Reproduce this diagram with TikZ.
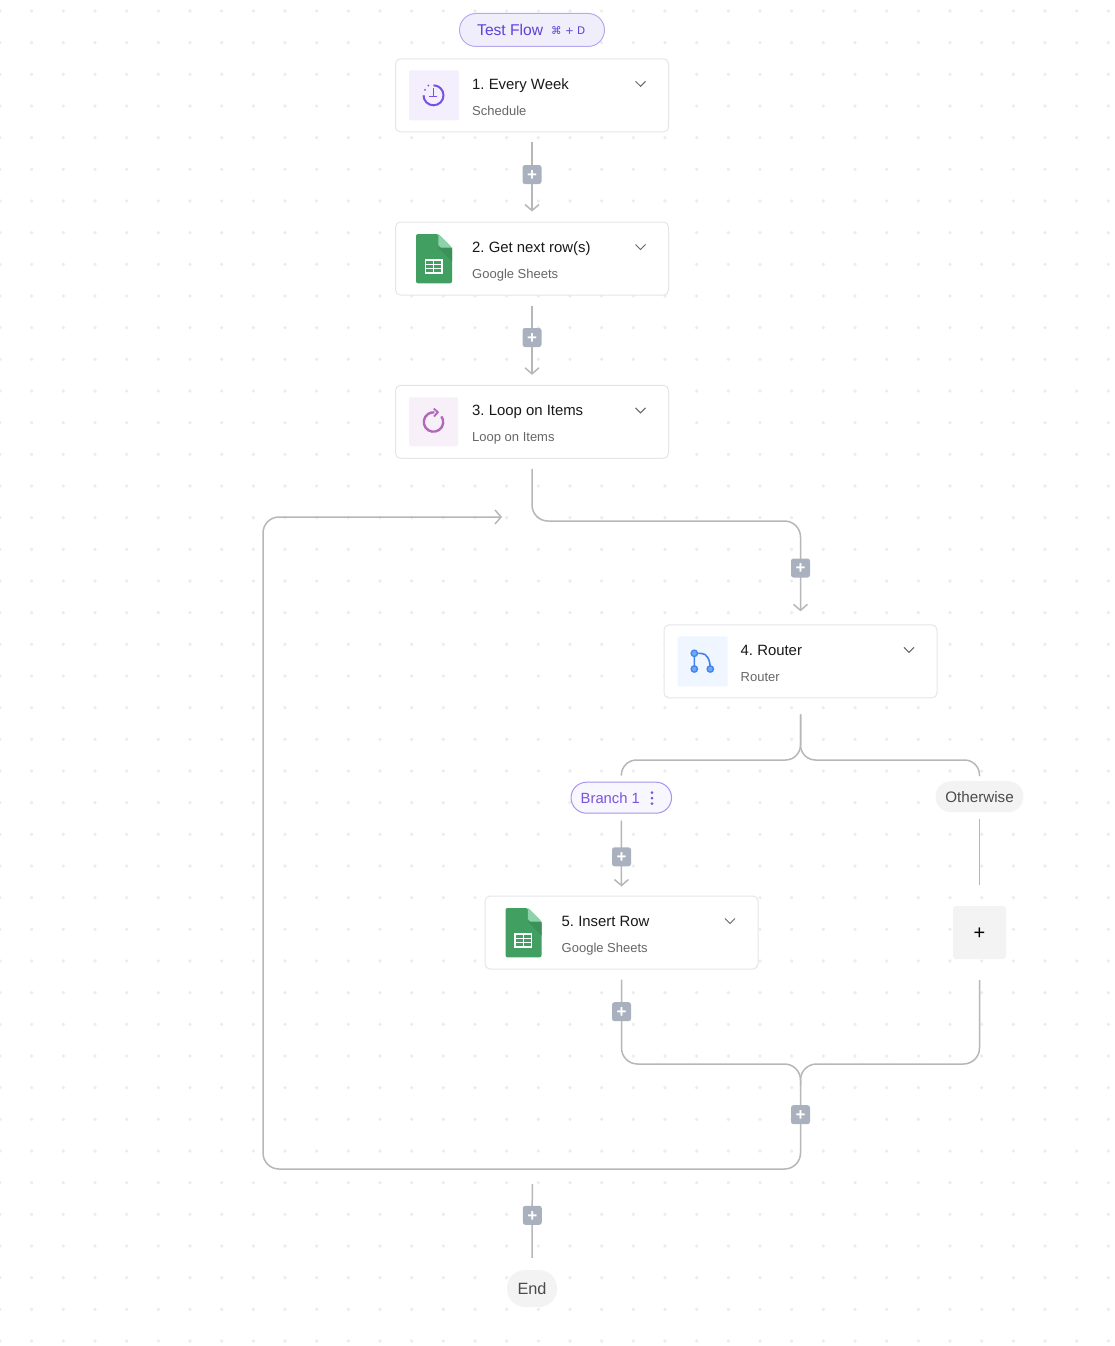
\documentclass[tikz,border=0pt]{standalone}
\usepackage{fontspec}
\setmainfont{Liberation Sans}
\newfontfamily\symfont{DejaVu Sans}
\usetikzlibrary{arrows.meta}
\definecolor{lineg}{HTML}{B7B7BA}
\definecolor{plusg}{HTML}{A9B0BE}
\definecolor{dotg}{HTML}{ECECEC}
\definecolor{cardb}{HTML}{E6E6E8}
\definecolor{purp}{HTML}{5E41D8}
\definecolor{clockp}{HTML}{7A4FE6}
\definecolor{loopp}{HTML}{B268BA}
\definecolor{routb}{HTML}{3F83F3}
\definecolor{routf}{HTML}{6FA8F6}
\definecolor{sheetg}{HTML}{429F62}
\definecolor{sheetl}{HTML}{8ED2AA}
\definecolor{sheetd}{HTML}{3B9159}
\definecolor{pilla}{HTML}{F1EEFC}
\definecolor{pillab}{HTML}{B8A8F0}
\definecolor{pillc}{HTML}{F8F6FE}
\definecolor{pillcb}{HTML}{A993EE}
\definecolor{branchT}{HTML}{7A54DC}
\definecolor{iconp}{HTML}{F3EFFD}
\definecolor{iconl}{HTML}{F8F0F9}
\definecolor{iconr}{HTML}{EFF6FF}
\definecolor{greyf}{HTML}{F3F3F3}
\definecolor{greyt}{HTML}{4B4B4B}
\tikzset{
  x=1pt,y=-1pt,
  card/.style={draw=cardb,line width=1pt,fill=white,rounded corners=5pt,minimum width=273pt,minimum height=73pt,inner sep=0pt},
  steptitle/.style={anchor=base west,inner sep=0pt,font=\fontsize{14.9}{16}\selectfont\frenchspacing,text=black!90},
  stepsub/.style={anchor=base west,inner sep=0pt,font=\fontsize{13}{14}\selectfont,text=black!60},
  chev/.style={draw=black!60,line width=1pt},
  conn/.style={draw=lineg,line width=1.5pt},
  tipped/.style={-{Straight Barb[length=6pt,width=14pt,line width=1.5pt]}},
  plusbox/.style={fill=plusg,rounded corners=2.5pt,minimum width=19pt,minimum height=19pt,inner sep=0pt,text=white,font=\fontsize{17}{17}\selectfont\bfseries},
  iconbox/.style={rounded corners=2pt,minimum width=50pt,minimum height=50pt,inner sep=0pt},
}
\newcommand{\stepcard}[5]{%
  \node[card] (#1) at (#2,#3) {};
  \node[steptitle] (#1t) at (#2-60,#3-6) {#4};
  \node[stepsub] (#1s) at (#2-60,#3+20) {#5};
  \draw[chev] (#2+103.5,#3-14) -- (#2+108.5,#3-9) -- (#2+113.5,#3-14);
}
\newcommand{\sheeticon}[2]{%
  \begin{scope}[shift={(#1,#2)}]
    \fill[sheetg,rounded corners=2pt] (0,0) -- (22.3,0) -- (36,13.7) -- (36,49.3) -- (0,49.3) -- cycle;
    \fill[sheetd] (22.3,13.7) -- (36,13.7) -- (36,27.4) -- cycle;
    \fill[sheetl] (22.3,0) -- (36,13.7) -- (25,13.7) -- (22.3,11) -- cycle;
    \draw[white,line width=1.5pt] (9.7,25.9) rectangle (26,39);
    \draw[white,line width=1.3pt] (9.7,30.3) -- (26,30.3) (9.7,34.6) -- (26,34.6) (17.8,25.9) -- (17.8,39);
  \end{scope}
}
\newcommand{\plusmark}{\raisebox{-1pt}[\height][\depth]{+}}
\begin{document}
\begin{tikzpicture}
\useasboundingbox (0,0) rectangle (1114,1346);
\fill[white] (0,0) rectangle (1114,1346);
% dots
\foreach \i in {0,...,35} \foreach \j in {0,...,42}
  \fill[dotg] ({\i*31.667},{11+\j*31.667}) circle[radius=1.8];

% cards
\stepcard{c1}{532}{95.3}{1. Every Week}{Schedule}
\stepcard{c2}{532}{258.5}{2. Get next row(s)}{Google Sheets}
\stepcard{c3}{532}{421.8}{3. Loop on Items}{Loop on Items}
\stepcard{c4}{800.5}{661.3}{4. Router}{Router}
\stepcard{c5}{621.5}{932.5}{5. Insert Row}{Google Sheets}

% icons
\node[iconbox,fill=iconp] (i1) at (434,95.3) {};
\draw[clockp,line width=2pt] (433.5,95.3) ++(0,-10) arc[start angle=-90,end angle=180,radius=10];
\fill[clockp] (428.3,85.5) circle[radius=1] (425,89.8) circle[radius=1];
\draw[clockp,line width=1.6pt] (433.5,88) -- (433.5,96.3) (429,96.3) -- (436.5,96.3);
\sheeticon{416}{234}
\node[iconbox,fill=iconl,minimum width=49pt,minimum height=49pt] (i3) at (433.5,421.8) {};
\draw[loopp,line width=2.4pt] (433.5,422) ++(-35:9.7) arc[start angle=-35,end angle=275,radius=9.7];
\draw[loopp,line width=1.9pt] (433.8,408.5) -- (437.8,412.3) -- (434,416.5);
\node[iconbox,fill=iconr] (i4) at (702.5,661.3) {};
\draw[routb,line width=1.6pt] (694.3,653.3) -- (694.3,669) (694.3,653.3) -- (701,653.3) .. controls (707,653.3) and (710.3,660) .. (710.3,669);
\filldraw[routb,fill=routf,line width=1.3pt] (694.3,653.3) circle[radius=3.2] (694.3,669) circle[radius=3.2] (710.3,669) circle[radius=3.2];
\sheeticon{505.5}{908}

% pills and end nodes
\node[draw=pillab,fill=pilla,line width=1pt,rounded corners=16.5pt,minimum width=145pt,minimum height=33pt,inner sep=0pt] (test) at (532,30) {};
\node[anchor=base west,inner sep=0pt,text=purp,font=\fontsize{15.6}{16}\selectfont] (testt) at (477,35.3) {Test Flow};
\node[anchor=base west,inner sep=0pt,text=purp,font=\symfont\fontsize{10.5}{12}\selectfont] (testk) at (551,34.5) {⌘ + D};
\node[draw=pillcb,fill=pillc,line width=1pt,rounded corners=15.5pt,minimum width=100.5pt,minimum height=31pt,inner sep=0pt] (br) at (621.3,797.7) {};
\node[anchor=base west,inner sep=0pt,text=branchT,font=\fontsize{14.8}{16}\selectfont] (brt) at (580.5,803) {Branch 1};
\fill[branchT] (652,792.5) circle[radius=1.5] (652,798) circle[radius=1.5] (652,803.5) circle[radius=1.5];
\node[fill=greyf,rounded corners=15.5pt,minimum width=88pt,minimum height=31pt,inner sep=0pt,text=greyt,font=\fontsize{15.2}{16}\selectfont] (other) at (979.5,796.7) {Otherwise};
\node[fill=greyf,rounded corners=3pt,minimum width=53pt,minimum height=53pt,inner sep=0pt,font=\fontsize{20}{20}\selectfont] (add) at (979.5,932.5) {\plusmark};
\node[fill=greyf,rounded corners=18pt,minimum width=50pt,minimum height=37pt,inner sep=0pt,text=greyt,font=\fontsize{16.3}{18}\selectfont] (endn) at (532,1288.5) {End};

% junction coordinates
\coordinate (a1) at (532,521);
\coordinate (a2) at (800.5,521);
\coordinate (rj) at (800.5,760);
\coordinate (rl2) at (621.5,760);
\coordinate (rr2) at (979.5,760);
\coordinate (ml) at (621.5,1064);
\coordinate (mr) at (979.5,1064);
\coordinate (mm) at (800.5,1064);
\coordinate (mm2) at (800.5,1085);
\coordinate (b1) at (800.5,1169);
\coordinate (b2) at (263,1169);
\coordinate (b3) at (263,517);
\coordinate (b4) at (502,517);
\coordinate (e0) at (532.3,1184);

% connectors
\draw[conn,tipped,shorten <=10pt,shorten >=10pt] (c1) -- (c2);
\draw[conn,tipped,shorten <=10pt,shorten >=10pt] (c2) -- (c3);
\draw[conn,tipped,rounded corners=16pt,shorten <=10pt,shorten >=13pt] (c3.south) -- (a1) -- (a2) -- (c4.north);
\draw[conn,rounded corners=15pt,shorten <=16pt,shorten >=6pt] (c4.south) -- (rj) -- (rl2) -- (br.north);
\draw[conn,rounded corners=15pt,shorten <=16pt,shorten >=5pt] (c4.south) -- (rj) -- (rr2) -- (other.north);
\draw[conn,tipped,shorten <=7pt,shorten >=9pt] (br.south) -- (c5.north);
\draw[conn,shorten <=7pt,shorten >=21pt] (other.south) -- (add.north);
\draw[conn,rounded corners=16pt,shorten <=10pt] (c5.south) -- (ml) -- (mm) -- (mm2);
\draw[conn,rounded corners=16pt,shorten <=21pt] (add.south) -- (mr) -- (mm) -- (mm2);
\draw[conn,tipped,rounded corners=16pt] (mm2) -- (b1) -- (b2) -- (b3) -- (b4);
\draw[conn,shorten >=12pt] (e0) -- (endn.north);

% add buttons
\node[plusbox] (p1) at (532,174.5) {\plusmark};
\node[plusbox] (p2) at (532,337.5) {\plusmark};
\node[plusbox] (p3) at (800.5,568) {\plusmark};
\node[plusbox] (p4) at (621.5,856.8) {\plusmark};
\node[plusbox] (p5) at (621.5,1011.7) {\plusmark};
\node[plusbox] (p6) at (800.5,1114.7) {\plusmark};
\node[plusbox] (p7) at (532.3,1215.3) {\plusmark};
\end{tikzpicture}
\end{document}
